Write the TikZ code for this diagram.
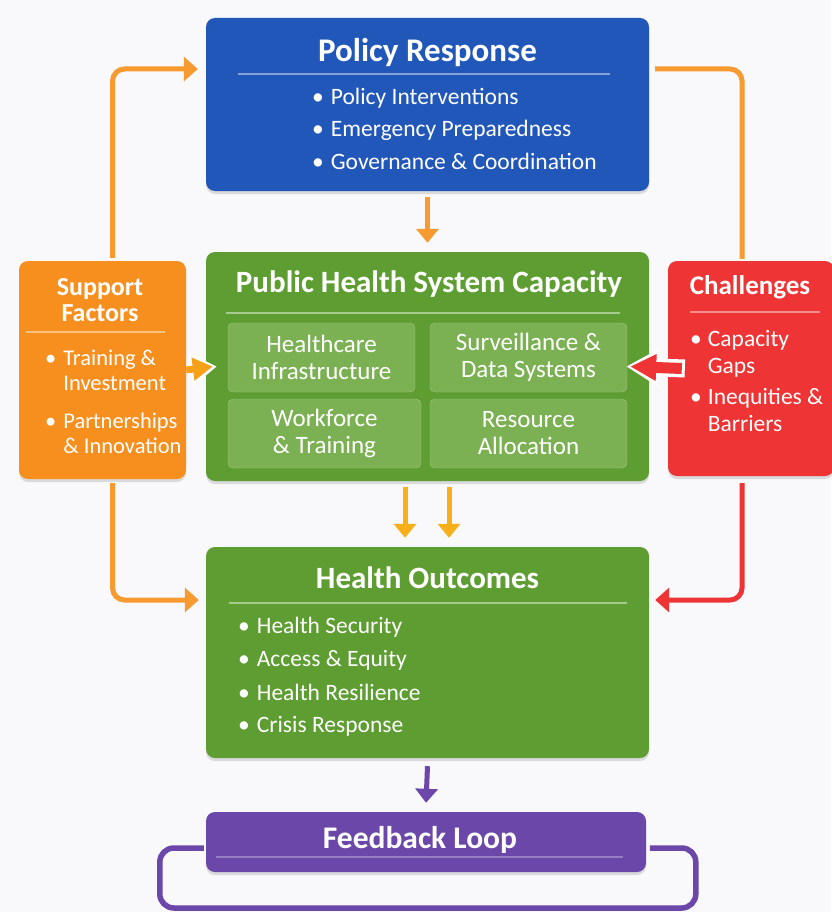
\documentclass[tikz,border=0pt]{standalone}
\usepackage{fontspec}
\setmainfont{Carlito}
\usetikzlibrary{arrows.meta}
\usetikzlibrary{shadows}

\definecolor{paper}{HTML}{F9F8FB}
\definecolor{prblue}{HTML}{2257BA}
\definecolor{phgreen}{HTML}{5E9D31}
\definecolor{subgreen}{HTML}{7BB152}
\definecolor{sforange}{HTML}{F78F1E}
\definecolor{arrorange}{HTML}{F79A30}
\definecolor{arryellow}{HTML}{F7B019}
\definecolor{chred}{HTML}{EE3434}
\definecolor{fbpurple}{HTML}{6A47A8}

\tikzset{
  box/.style={rounded corners=9pt, draw=none, inner sep=0pt,
    drop shadow={shadow xshift=0pt, shadow yshift=-3pt, opacity=0.25}},
  subbox/.style={rounded corners=5pt, fill=subgreen, draw=subgreen!70!white,
    text=white, align=center, inner sep=0pt,
    font=\fontsize{25}{27}\selectfont},
  titletext/.style={text=white, font=\bfseries\fontsize{31}{34}\selectfont},
  sidetitle/.style={text=white, align=center, font=\bfseries\fontsize{26}{26}\selectfont},
  itemtext/.style={text=white, anchor=west, inner sep=0pt, font=\fontsize{23.5}{26}\selectfont},
  sideitem/.style={text=white, anchor=base west, inner sep=0pt},
  sepline/.style={draw=white, opacity=0.45, line width=1.5pt},
  flow/.style={line width=5pt, -{Triangle[length=14pt, width=22pt]}},
  loopline/.style={line width=5pt, rounded corners=12pt}
}

\begin{document}
\begin{tikzpicture}[x=1pt,y=-1pt]
  \fill[paper] (0,0) rectangle (831,912);
  \useasboundingbox (0,0) rectangle (831,912);

  % main boxes
  \node[box, fill=prblue, minimum width=443, minimum height=173] (policy) at (427.5,104.5) {};
  \node[box, fill=phgreen, minimum width=443, minimum height=229] (phsc) at (427.5,366.5) {};
  \node[box, fill=sforange, minimum width=167, minimum height=218] (support) at (102.5,370) {};
  \node[box, fill=chred, minimum width=166, minimum height=215] (challenges) at (751,368.5) {};
  \node[box, fill=phgreen, minimum width=443, minimum height=211] (outcomes) at (427.5,652.5) {};
  \node[box, fill=fbpurple, minimum width=440, minimum height=60] (feedback) at (426,842) {};

  % policy response
  \node[titletext, font=\bfseries\fontsize{33}{36}\selectfont] (policy-title) at (427.5,53) {Policy Response};
  \draw[sepline] (238,74) -- (610,74);
  \foreach \i/\y/\txt in {
    1/98/Policy Interventions,
    2/130/Emergency Preparedness,
    3/161/Governance \& Coordination%
  } {
    \node[itemtext] (policy-item\i) at (312,\y) {\textbullet\hspace{7pt}\txt};
  }

  % system capacity
  \node[titletext] (phsc-title) at (429,284) {Public Health System Capacity};
  \draw[sepline] (226,313) -- (620,313);
  \node[subbox, minimum width=187, minimum height=69] (infra) at (321.5,357.5) {Healthcare\\Infrastructure};
  \node[subbox, minimum width=197, minimum height=69] (surv) at (528.5,357.5) {Surveillance \&\\Data Systems};
  \node[subbox, minimum width=193, minimum height=69] (workforce) at (324.5,433.5) {Workforce\\\& Training};
  \node[subbox, minimum width=197, minimum height=69] (resource) at (528.5,433.5) {Resource\\Allocation};

  % support factors
  \node[sidetitle] (support-title) at (100,300) {Support\\Factors};
  \draw[sepline] (26,332) -- (165,332);
  \node[sideitem, font=\fontsize{22.5}{25.5}\selectfont] (support-item1) at (45,365)
    {\begin{tabular}[t]{@{}l@{\hspace{7pt}}l@{}}\textbullet & Training \&\\ & Investment\end{tabular}};
  \node[sideitem, font=\fontsize{22.5}{25.5}\selectfont] (support-item2) at (45,428)
    {\begin{tabular}[t]{@{}l@{\hspace{7pt}}l@{}}\textbullet & Partnerships\\ & \& Innovation\end{tabular}};

  % challenges
  \node[sidetitle, font=\bfseries\fontsize{27}{27}\selectfont] (challenges-title) at (750,287) {Challenges};
  \draw[sepline] (690,312) -- (820,312);
  \node[sideitem, font=\fontsize{23.5}{27}\selectfont] (challenges-item1) at (690,346)
    {\begin{tabular}[t]{@{}l@{\hspace{6pt}}l@{}}\textbullet & Capacity\\ & Gaps\end{tabular}};
  \node[sideitem, font=\fontsize{23.5}{27}\selectfont] (challenges-item2) at (690,404)
    {\begin{tabular}[t]{@{}l@{\hspace{6pt}}l@{}}\textbullet & Inequities \&\\ & Barriers\end{tabular}};

  % health outcomes
  \node[titletext] (outcomes-title) at (427.5,578) {Health Outcomes};
  \draw[sepline] (229,603) -- (627,603);
  \foreach \i/\y/\txt in {
    1/627/Health Security,
    2/660/Access \& Equity,
    3/692/Health Resilience,
    4/726/Crisis Response%
  } {
    \node[itemtext] (outcomes-item\i) at (238,\y) {\textbullet\hspace{7pt}\txt};
  }

  % feedback loop
  \node[titletext, font=\bfseries\fontsize{31.5}{34}\selectfont] (feedback-title) at (420,840) {Feedback Loop};
  \draw[sepline, opacity=0.3] (216,857) -- (623,857);

  % connectors
  \draw[flow, arrorange] ([yshift=-6pt]policy.south) -- ([yshift=9pt]phsc.north);
  \draw[flow, arryellow] ([xshift=-22.5pt,yshift=-6pt]phsc.south) -- ([xshift=-22.5pt,yshift=9pt]outcomes.north);
  \draw[flow, arryellow] ([xshift=21.5pt,yshift=-6pt]phsc.south) -- ([xshift=21.5pt,yshift=9pt]outcomes.north);
  \draw[flow, fbpurple] ([yshift=-8pt]outcomes.south) -- ([yshift=9pt]feedback.north);

  % side arrows, white rim first
  \draw[line width=13pt, white, -{Triangle[length=26pt, width=32pt]}]
    ([xshift=1pt]support.east) -- ([xshift=11pt]phsc.west);
  \draw[line width=7pt, arryellow!55!sforange, -{Triangle[length=20pt, width=22pt]}]
    ([xshift=0pt]support.east) -- ([xshift=7pt]phsc.west);
  \draw[line width=18pt, white, -{Triangle[length=32pt, width=35pt]}]
    ([xshift=17pt]challenges.west) -- ([xshift=-23pt]phsc.east);
  \draw[line width=11pt, chred, -{Triangle[length=26pt, width=25pt]}]
    ([xshift=14pt]challenges.west) -- ([xshift=-19pt]phsc.east);

  % outer loops
  \draw[loopline, arrorange, -{Triangle[length=14pt, width=24pt]}]
    ([xshift=10pt,yshift=3pt]support.north) |- ([xshift=-8pt,yshift=35.5pt]policy.west);
  \draw[loopline, arrorange]
    ([xshift=6pt,yshift=35.5pt]policy.east) -| ([xshift=-9pt,yshift=2pt]challenges.north);
  \draw[loopline, arrorange, -{Triangle[length=14pt, width=24pt]}]
    ([xshift=10pt,yshift=-4pt]support.south) |- ([xshift=-7pt,yshift=52.5pt]outcomes.west);
  \draw[loopline, chred, -{Triangle[length=14pt, width=24pt]}]
    ([xshift=-9pt,yshift=-7pt]challenges.south) |- ([xshift=6pt,yshift=52.5pt]outcomes.east);

  \draw[loopline, fbpurple, line width=5.5pt, rounded corners=14pt]
    ([xshift=-2pt,yshift=-6pt]feedback.west) -- ++(-44,0) -- ++(0,60)
    -- ++(536,0) -- ++(0,-60) -- ++(-46,0);
\end{tikzpicture}
\end{document}
